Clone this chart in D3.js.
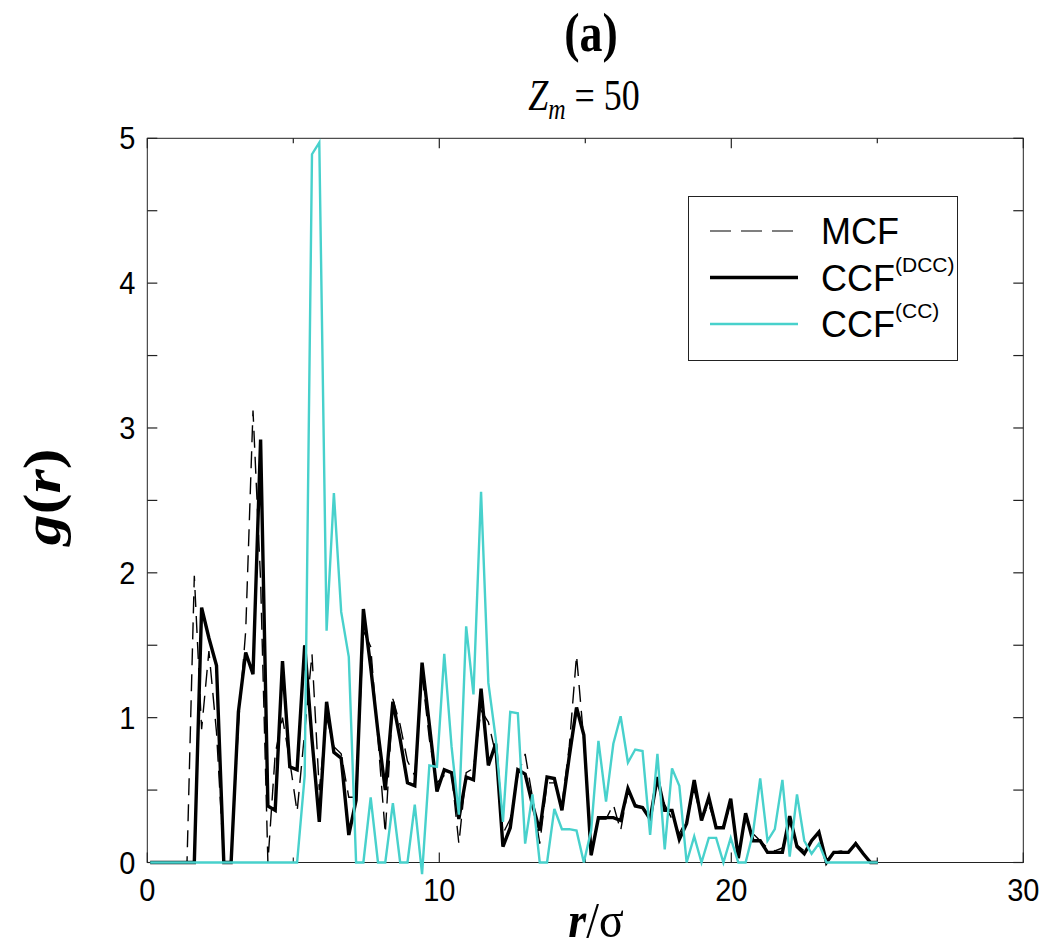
<!DOCTYPE html>
<html>
<head>
<meta charset="utf-8">
<script src="https://cdn.jsdelivr.net/npm/d3@7"></script>
<style>
body { margin: 0; background: #fff; }
</style>
</head>
<body>
<svg width="1048" height="951"></svg>
<script>
// bin centres r/sigma
var r = [0.10, 0.35, 0.60, 0.86, 1.11, 1.36, 1.61, 1.86, 2.11, 2.37,
         2.62, 2.87, 3.12, 3.37, 3.62, 3.88, 4.13, 4.38, 4.63, 4.88,
         5.13, 5.39, 5.64, 5.89, 6.14, 6.39, 6.64, 6.90, 7.15, 7.40,
         7.65, 7.90, 8.15, 8.41, 8.66, 8.91, 9.16, 9.41, 9.66, 9.92,
         10.17, 10.42, 10.67, 10.92, 11.17, 11.43, 11.68, 11.93, 12.18, 12.43,
         12.69, 12.94, 13.19, 13.44, 13.69, 13.94, 14.20, 14.45, 14.70, 14.95,
         15.20, 15.45, 15.71, 15.96, 16.21, 16.46, 16.71, 16.96, 17.22, 17.47,
         17.72, 17.97, 18.22, 18.47, 18.73, 18.98, 19.23, 19.48, 19.73, 19.98,
         20.24, 20.49, 20.74, 20.99, 21.24, 21.49, 21.75, 22.00, 22.25, 22.50,
         22.75, 23.00, 23.26, 23.51, 23.76, 24.01, 24.26, 24.52, 24.77, 25.02];

var mcf = [0, 0, 0, 0, 0, 0, 1.98, 0.92, 1.46, 0.90,
           0, 0, 0.95, 1.60, 3.12, 1.95, 0, 0.75, 1.00, 0.70,
           0.35, 0.90, 1.44, 0.50, 1.00, 0.80, 0.75, 0.45, 0.45, 1.60,
           1.49, 0.85, 0.20, 1.13, 0.95, 0.70, 0.60, 1.30, 0.85, 0.55,
           0.60, 0.62, 0.13, 0.62, 0.65, 1.05, 0.97, 0.75, 0.20, 0.30,
           0.60, 0.75, 0.45, 0.13, 0.55, 0.55, 0.40, 0.80, 1.43, 0.84,
           0.05, 0.30, 0.30, 0.40, 0.22, 0.50, 0.40, 0.38, 0.32, 0.55,
           0.40, 0.30, 0.20, 0.30, 0.50, 0.30, 0.40, 0.25, 0.25, 0.40,
           0.05, 0.30, 0.20, 0.15, 0.10, 0.08, 0.10, 0.28, 0.12, 0.08,
           0.15, 0.20, 0, 0.07, 0.08, 0.06, 0.14, 0.06, 0, 0];

var ccfDCC = [0, 0, 0, 0, 0, 0, 0, 1.76, 1.55, 1.36,
              0, 0, 1.04, 1.45, 1.30, 2.92, 0.39, 0.36, 1.39, 0.66,
              0.64, 1.50, 0.85, 0.28, 1.11, 0.76, 0.72, 0.19, 0.43, 1.75,
              1.35, 0.90, 0.50, 1.11, 0.85, 0.55, 0.53, 1.38, 0.95, 0.49,
              0.64, 0.62, 0.30, 0.59, 0.57, 1.20, 0.67, 0.82, 0.11, 0.24,
              0.64, 0.61, 0.40, 0.22, 0.59, 0.58, 0.36, 0.73, 1.07, 0.88,
              0.05, 0.31, 0.31, 0.31, 0.29, 0.51, 0.39, 0.38, 0.30, 0.59,
              0.36, 0.36, 0.16, 0.27, 0.57, 0.29, 0.45, 0.24, 0.24, 0.44,
              0.03, 0.34, 0.15, 0.15, 0.07, 0.07, 0.07, 0.32, 0.11, 0.06,
              0.15, 0.21, 0, 0.07, 0.07, 0.07, 0.13, 0.06, 0, 0];

var ccfCC = [0, 0, 0, 0, 0, 0, 0, 0, 0, 0,
             0, 0, 0, 0, 0, 0, 0, 0, 0, 0,
             0, 0.60, 4.89, 4.97, 1.60, 2.55, 1.73, 1.42, 0, 0,
             0.45, 0, 0, 0.41, 0, 0, 0.40, -0.08, 0.67, 0.66,
             1.44, 0.80, 0.33, 1.63, 1.16, 2.56, 1.24, 0.86, 0.28, 1.04,
             1.03, 0.13, 0.47, 0, 0, 0.37, 0.23, 0.23, 0.22, 0,
             0.22, 0.84, 0.42, 0.82, 1.01, 0.69, 0.78, 0.77, 0.19, 0.75,
             0.09, 0.65, 0.53, 0, 0.18, 0, 0.17, 0.17, 0, 0.17,
             0, 0, 0.20, 0.58, 0.15, 0.23, 0.57, 0.04, 0.47, 0.15,
             0.06, 0.13, 0, 0, 0, 0, 0, 0, 0, 0];

var xLabels = [0, 10, 20, 30];
var xMinor = [5, 15, 25];
var yLabels = [0, 1, 2, 3, 4, 5];
var yTicks = [0, 0.5, 1, 1.5, 2, 2.5, 3, 3.5, 4, 4.5, 5];

var series = [
    { name: "MCF", sup: "", values: mcf, color: "#000", width: 1.4, dash: "17,9" },
    { name: "CCF", sup: "(DCC)", values: ccfDCC, color: "#000", width: 3.4, dash: null },
    { name: "CCF", sup: "(CC)", values: ccfCC, color: "#48d1cc", width: 2.4, dash: null }
];

var svg = d3.select("svg");
var plotL = 147.3, plotR = 1023.3, plotT = 138.3, plotB = 862.5;

var x = d3.scaleLinear().domain([0, 30]).range([plotL, plotR]);
var y = d3.scaleLinear().domain([0, 5]).range([plotB, plotT]);

var serif = "'Liberation Serif', 'Times New Roman', serif";
var sans = "'Liberation Sans', Arial, sans-serif";

// titles (the original glyphs are drawn a bit taller than wide)
svg.append("text")
    .attr("transform", "translate(591,51) scale(1,1.2)")
    .attr("text-anchor", "middle")
    .style("font-family", serif).style("font-weight", "bold").style("font-size", "46px")
    .text("(a)");

var zt = svg.append("text")
    .attr("transform", "translate(584,110) scale(1,1.25)")
    .attr("text-anchor", "middle")
    .style("font-family", serif).style("font-size", "36px");
zt.append("tspan").style("font-style", "italic").text("Z");
zt.append("tspan").style("font-style", "italic").style("font-size", "24px").attr("dy", 7).text("m");
zt.append("tspan").attr("dy", -7).text(" = 50");

// frame
svg.append("rect")
    .attr("x", plotL).attr("y", plotT)
    .attr("width", plotR - plotL).attr("height", plotB - plotT)
    .attr("fill", "none").attr("stroke", "#222").attr("stroke-width", 1);

// ticks inside, on all four sides
var tk = svg.append("g").attr("stroke", "#222").attr("stroke-width", 1.2);
xLabels.forEach(function (d) {
    tk.append("line").attr("x1", x(d)).attr("x2", x(d)).attr("y1", plotB).attr("y2", plotB - 10);
    tk.append("line").attr("x1", x(d)).attr("x2", x(d)).attr("y1", plotT).attr("y2", plotT + 10);
});
xMinor.forEach(function (d) {
    tk.append("line").attr("x1", x(d)).attr("x2", x(d)).attr("y1", plotB).attr("y2", plotB - 5);
    tk.append("line").attr("x1", x(d)).attr("x2", x(d)).attr("y1", plotT).attr("y2", plotT + 5);
});
yTicks.forEach(function (d) {
    tk.append("line").attr("x1", plotL).attr("x2", plotL + 10).attr("y1", y(d)).attr("y2", y(d));
    tk.append("line").attr("x1", plotR).attr("x2", plotR - 10).attr("y1", y(d)).attr("y2", y(d));
});

svg.append("g").selectAll("text")
    .data(xLabels).enter().append("text")
    .attr("transform", function (d) { return "translate(" + x(d) + "," + (plotB + 38) + ") scale(1,1.1)"; })
    .attr("text-anchor", "middle")
    .style("font-family", sans).style("font-size", "29px")
    .text(function (d) { return d; });

svg.append("g").selectAll("text")
    .data(yLabels).enter().append("text")
    .attr("transform", function (d) { return "translate(" + (plotL - 12) + "," + (y(d) + 11) + ") scale(1,1.1)"; })
    .attr("text-anchor", "end")
    .style("font-family", sans).style("font-size", "29px")
    .text(function (d) { return d; });

// axis titles
var xl = svg.append("text")
    .attr("transform", "translate(596,937) scale(1,1.1)")
    .attr("text-anchor", "middle")
    .style("font-family", serif).style("font-weight", "bold").style("font-size", "46px");
xl.append("tspan").style("font-style", "italic").text("r");
xl.append("tspan").style("font-weight", "normal").text("/σ");

var yl = svg.append("text")
    .attr("transform", "translate(60,497) rotate(-90) scale(1.2,1)")
    .attr("text-anchor", "middle")
    .style("font-family", serif).style("font-weight", "bold").style("font-size", "52px");
yl.append("tspan").style("font-style", "italic").text("g");
yl.append("tspan").text("(");
yl.append("tspan").style("font-style", "italic").text("r");
yl.append("tspan").text(")");

// curves
var line = d3.line()
    .x(function (d, i) { return x(r[i]); })
    .y(function (d) { return y(d); });

series.forEach(function (s) {
    svg.append("path")
        .datum(s.values)
        .attr("d", line)
        .attr("fill", "none")
        .attr("stroke", s.color)
        .attr("stroke-width", s.width)
        .attr("stroke-dasharray", s.dash)
        .attr("stroke-linejoin", "miter");
});

// legend
var lg = svg.append("g");
lg.append("rect")
    .attr("x", 688.5).attr("y", 196.5).attr("width", 269).attr("height", 164)
    .attr("fill", "#fff").attr("stroke", "#222").attr("stroke-width", 1);

var rowY = [231, 277.5, 324];
series.forEach(function (s, i) {
    lg.append("line")
        .attr("x1", 710).attr("x2", 798)
        .attr("y1", rowY[i]).attr("y2", rowY[i])
        .attr("stroke", s.color)
        .attr("stroke-width", i == 0 ? 1.2 : s.width)
        .attr("stroke-dasharray", s.dash ? "21,10" : null);
    var t = lg.append("text")
        .attr("x", 821).attr("y", rowY[i] + 13)
        .style("font-family", sans).style("font-size", "36px")
        .text(s.name);
    if (s.sup) {
        t.append("tspan").attr("dy", -19).style("font-size", "21px").text(s.sup);
    }
});
</script>
</body>
</html>
